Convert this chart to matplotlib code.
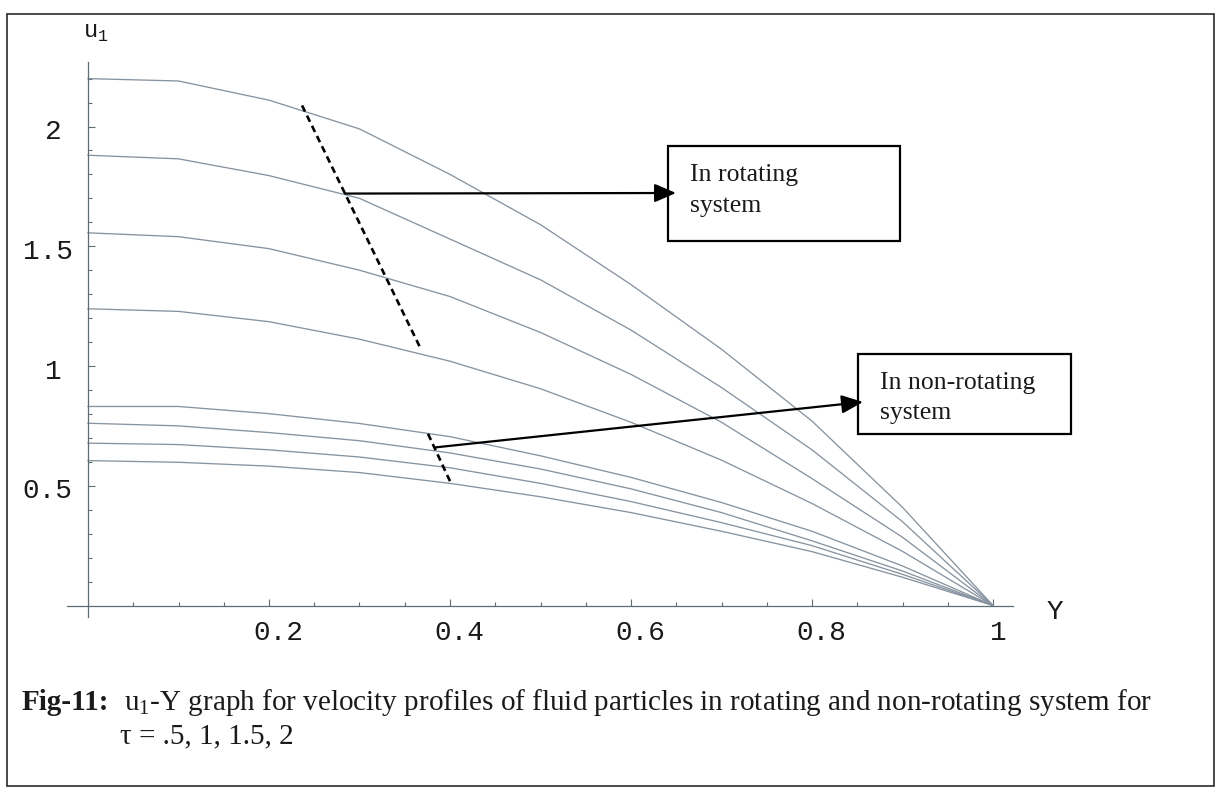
import matplotlib
matplotlib.use("Agg")
import matplotlib.pyplot as plt
from matplotlib.patches import Rectangle
import numpy as np

# ---------------------------------------------------------------- data
y_pos = [0.0, 0.1, 0.2, 0.3, 0.4, 0.5, 0.6, 0.7, 0.8, 0.9, 1.0]

# velocity profiles u1(Y), rotating system
u_rot_a = [2.200, 2.190, 2.110, 1.990, 1.800, 1.590, 1.340, 1.070, 0.770, 0.410, 0.0]
u_rot_b = [1.880, 1.865, 1.795, 1.700, 1.530, 1.360, 1.150, 0.910, 0.650, 0.350, 0.0]
u_rot_c = [1.556, 1.540, 1.490, 1.400, 1.290, 1.140, 0.965, 0.765, 0.530, 0.285, 0.0]
u_rot_d = [1.239, 1.228, 1.185, 1.112, 1.020, 0.905, 0.765, 0.607, 0.426, 0.226, 0.0]

# velocity profiles u1(Y), non-rotating system
u_non_a = [0.831, 0.831, 0.801, 0.760, 0.705, 0.625, 0.535, 0.430, 0.310, 0.165, 0.0]
u_non_b = [0.761, 0.750, 0.722, 0.688, 0.637, 0.570, 0.487, 0.388, 0.270, 0.144, 0.0]
u_non_c = [0.678, 0.672, 0.650, 0.620, 0.575, 0.510, 0.434, 0.346, 0.250, 0.130, 0.0]
u_non_d = [0.605, 0.598, 0.582, 0.555, 0.510, 0.454, 0.388, 0.310, 0.225, 0.118, 0.0]

x_major = [0.2, 0.4, 0.6, 0.8, 1.0]
x_major_labels = ["0.2", "0.4", "0.6", "0.8", "1"]
y_major = [0.5, 1.0, 1.5, 2.0]
y_major_labels = ["0.5", "1", "1.5", "2"]

# markers of the two families (end points of the dashed strokes, arrow tails)
rot_marker = [(0.2365, 2.088), (0.367, 1.077)]
non_marker = [(0.3757, 0.717), (0.400, 0.519)]
rot_arrow_tail = (0.284, 1.720)
non_arrow_tail = (0.3834, 0.660)

caption_1 = "u$_{\\mathrm{1}}$-Y graph for velocity profiles of fluid particles in rotating and non-rotating system for"
caption_2 = "\u03c4 = .5, 1, 1.5, 2"

# ---------------------------------------------------------------- layout
W, H, DPI = 1217, 788, 100
plt.rcParams["mathtext.fontset"] = "custom"
plt.rcParams["mathtext.rm"] = "Liberation Serif"
plt.rcParams["mathtext.tt"] = "Liberation Mono"

MONO = "Liberation Mono"
SERIF = "Liberation Serif"
CURVE = "#8794a0"
AXIS = "#5e6d74"
INK = "#1a1a1a"

fig = plt.figure(figsize=(W / DPI, H / DPI), dpi=DPI)
fig.patch.set_facecolor("white")

def fx(px):
    return px / W

def fy(py):
    return 1.0 - py / H

# pixel placement of the data origin and unit lengths
PX0, PX1 = 88.0, 993.0
PY0, PYU = 605.5, 239.5
xlim = (-0.03, 1.03)
ylim = (-0.06, 2.30)
left = (PX0 + xlim[0] * (PX1 - PX0)) / W
right = (PX0 + xlim[1] * (PX1 - PX0)) / W
bottom = fy(PY0 - ylim[0] * PYU)
top = fy(PY0 - ylim[1] * PYU)
ax = fig.add_axes([left, bottom, right - left, top - bottom])
ax.set_xlim(*xlim)
ax.set_ylim(*ylim)
ax.patch.set_alpha(0)

for s in ("top", "right"):
    ax.spines[s].set_visible(False)
ax.spines["left"].set_position(("data", 0))
ax.spines["bottom"].set_position(("data", 0))
ax.spines["left"].set_bounds(-0.046, 2.27)
ax.spines["bottom"].set_bounds(-0.023, 1.022)
for s in ("left", "bottom"):
    ax.spines[s].set_color(AXIS)
    ax.spines[s].set_linewidth(0.9)

ax.set_xticks(x_major)
ax.set_xticks(np.arange(0.05, 1.0001, 0.05), minor=True)
ax.set_yticks(y_major)
ax.set_yticks(np.arange(0.1, 2.2001, 0.1), minor=True)
ax.tick_params(which="both", direction="in", color=AXIS, width=0.8,
               labelbottom=False, labelleft=False)
ax.tick_params(which="major", length=5.0)
ax.tick_params(which="minor", length=3.0)

# ---------------------------------------------------------------- curves
for u in (u_rot_a, u_rot_b, u_rot_c, u_rot_d,
          u_non_a, u_non_b, u_non_c, u_non_d):
    ax.plot(y_pos, u, color=CURVE, lw=0.95, solid_joinstyle="round")

# dashed strokes marking each family
for seg in (rot_marker, non_marker):
    ax.plot([seg[0][0], seg[1][0]], [seg[0][1], seg[1][1]],
            color="black", lw=1.9, dashes=(2.6, 1.7))

# ---------------------------------------------------------------- tick labels
for v, lab in zip(x_major, x_major_labels):
    dx = 4 if lab == "1" else 7
    ax.annotate(lab, xy=(v, 0), xycoords="data", xytext=(dx, -20),
                textcoords="offset points", ha="center", va="center",
                family=MONO, fontsize=20, color=INK)
for v, lab in zip(y_major, y_major_labels):
    dx = -29 if len(lab) > 1 else -25
    ax.annotate(lab, xy=(0, v), xycoords="data", xytext=(dx, -4),
                textcoords="offset points", ha="center", va="center",
                family=MONO, fontsize=20, color=INK)

# axis names
fig.text(fx(83), fy(38), "u$_{\\mathtt{1}}$", family=MONO, fontsize=17,
         ha="left", va="baseline", color=INK)
fig.text(fx(1055), fy(612), "Y", family=MONO, fontsize=20,
         ha="center", va="center", color=INK)

# ---------------------------------------------------------------- callouts
def box(x0, y0, x1, y1):
    fig.add_artist(Rectangle((fx(x0), fy(y1)), (x1 - x0) / W, (y1 - y0) / H,
                             transform=fig.transFigure, fill=False,
                             ec="black", lw=1.6))

box(668, 146, 900, 241)
fig.text(fx(690), fy(181), "In rotating", family=SERIF, fontsize=18.5,
         va="baseline", ha="left", color=INK)
fig.text(fx(690), fy(212), "system", family=SERIF, fontsize=18.5,
         va="baseline", ha="left", color=INK)

box(858, 354, 1071, 434)
fig.text(fx(880), fy(389), "In non-rotating", family=SERIF, fontsize=18.5,
         va="baseline", ha="left", color=INK)
fig.text(fx(880), fy(419), "system", family=SERIF, fontsize=18.5,
         va="baseline", ha="left", color=INK)

arrow = dict(arrowstyle="-|>,head_length=0.65,head_width=0.28", color="black",
             lw=1.6, mutation_scale=20, shrinkA=0, shrinkB=0)
ax.annotate("", xy=(fx(676), fy(193)), xycoords="figure fraction",
            xytext=rot_arrow_tail, textcoords="data", arrowprops=arrow)
ax.annotate("", xy=(fx(863), fy(402)), xycoords="figure fraction",
            xytext=non_arrow_tail, textcoords="data", arrowprops=arrow)

# ---------------------------------------------------------------- caption
CAP = 21
fig.text(fx(22), fy(710), "Fig-11:", family=SERIF, fontsize=CAP,
         weight="bold", va="baseline", ha="left", color=INK)
fig.text(fx(124), fy(710), caption_1, family=SERIF, fontsize=CAP,
         va="baseline", ha="left", color=INK)
fig.text(fx(120), fy(743), caption_2, family=SERIF, fontsize=CAP,
         va="baseline", ha="left", color=INK)

# outer frame
fig.add_artist(Rectangle((fx(7), fy(786)), (1214 - 7) / W, (786 - 14) / H,
                         transform=fig.transFigure, fill=False,
                         ec="#2a2a2a", lw=1.2))

fig.savefig("out.png", dpi=DPI)
